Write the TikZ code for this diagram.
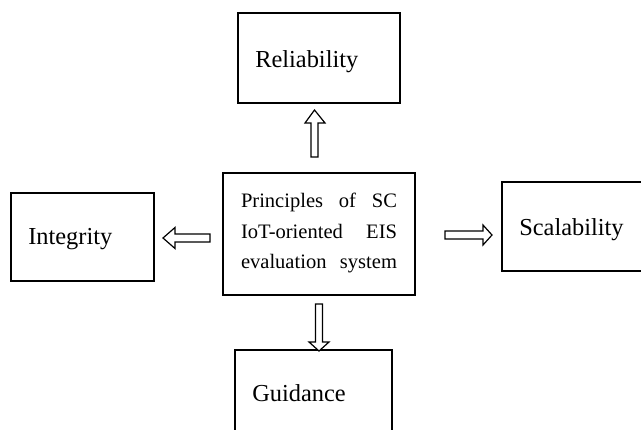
\documentclass[tikz,border=0pt]{standalone}
\usepackage{fontspec}
\setmainfont{Liberation Serif}
\begin{document}
\begin{tikzpicture}[x=0.75pt,y=-0.75pt,
  boxst/.style={draw=black,line width=1.4pt,inner sep=0pt},
  lbl/.style={inner sep=0pt,anchor=base west,font=\fontsize{18.3}{22}\selectfont},
  blockarrow/.style={draw=black,line width=0.9pt,fill=white,line join=miter}]
\useasboundingbox (0,0) rectangle (641,429);
\clip (0,0) rectangle (641,429);
% boxes
\node[boxst,minimum width=144pt,minimum height=91.5pt] (ctr) at (319,234) {};
\node[boxst,minimum width=121.5pt,minimum height=67.5pt] (rel) at (319,58) {};
\node[boxst,minimum width=107.25pt,minimum height=66pt] (int) at (82.5,237) {};
\node[boxst,minimum width=108pt,minimum height=66.75pt] (sca) at (574,226.5) {};
\node[boxst,minimum width=117.75pt,minimum height=75pt] (gui) at (313.5,400) {};
% texts
\node[inner sep=0pt,align=left,font=\fontsize{15.4}{23.2}\selectfont] (ctrt) at (319,233)
  {\makebox[117pt][s]{Principles of SC}\\
   \makebox[117pt][s]{IoT-oriented EIS}\\
   \makebox[117pt][s]{evaluation system}};
\node[lbl] (relt) at (255,67) {Reliability};
\node[lbl] (intt) at (28,244) {Integrity};
\node[lbl] (scat) at (519,235) {Scalability};
\node[lbl] (guit) at (252,401) {Guidance};
% block arrows
\draw[blockarrow] (311,157) -- (311,123) -- (305,123) -- (314.5,110) -- (325,123) -- (318,123) -- (318,157) -- cycle;
\draw[blockarrow] (315.5,304) -- (315.5,342) -- (309,342) -- (319,351) -- (329,342) -- (322.5,342) -- (322.5,304) -- cycle;
\draw[blockarrow] (210,234) -- (175,234) -- (175,227.5) -- (163,238) -- (175,248.5) -- (175,242) -- (210,242) -- cycle;
\draw[blockarrow] (445,231) -- (483,231) -- (483,225) -- (492,235) -- (483,245) -- (483,239) -- (445,239) -- cycle;
\end{tikzpicture}
\end{document}
